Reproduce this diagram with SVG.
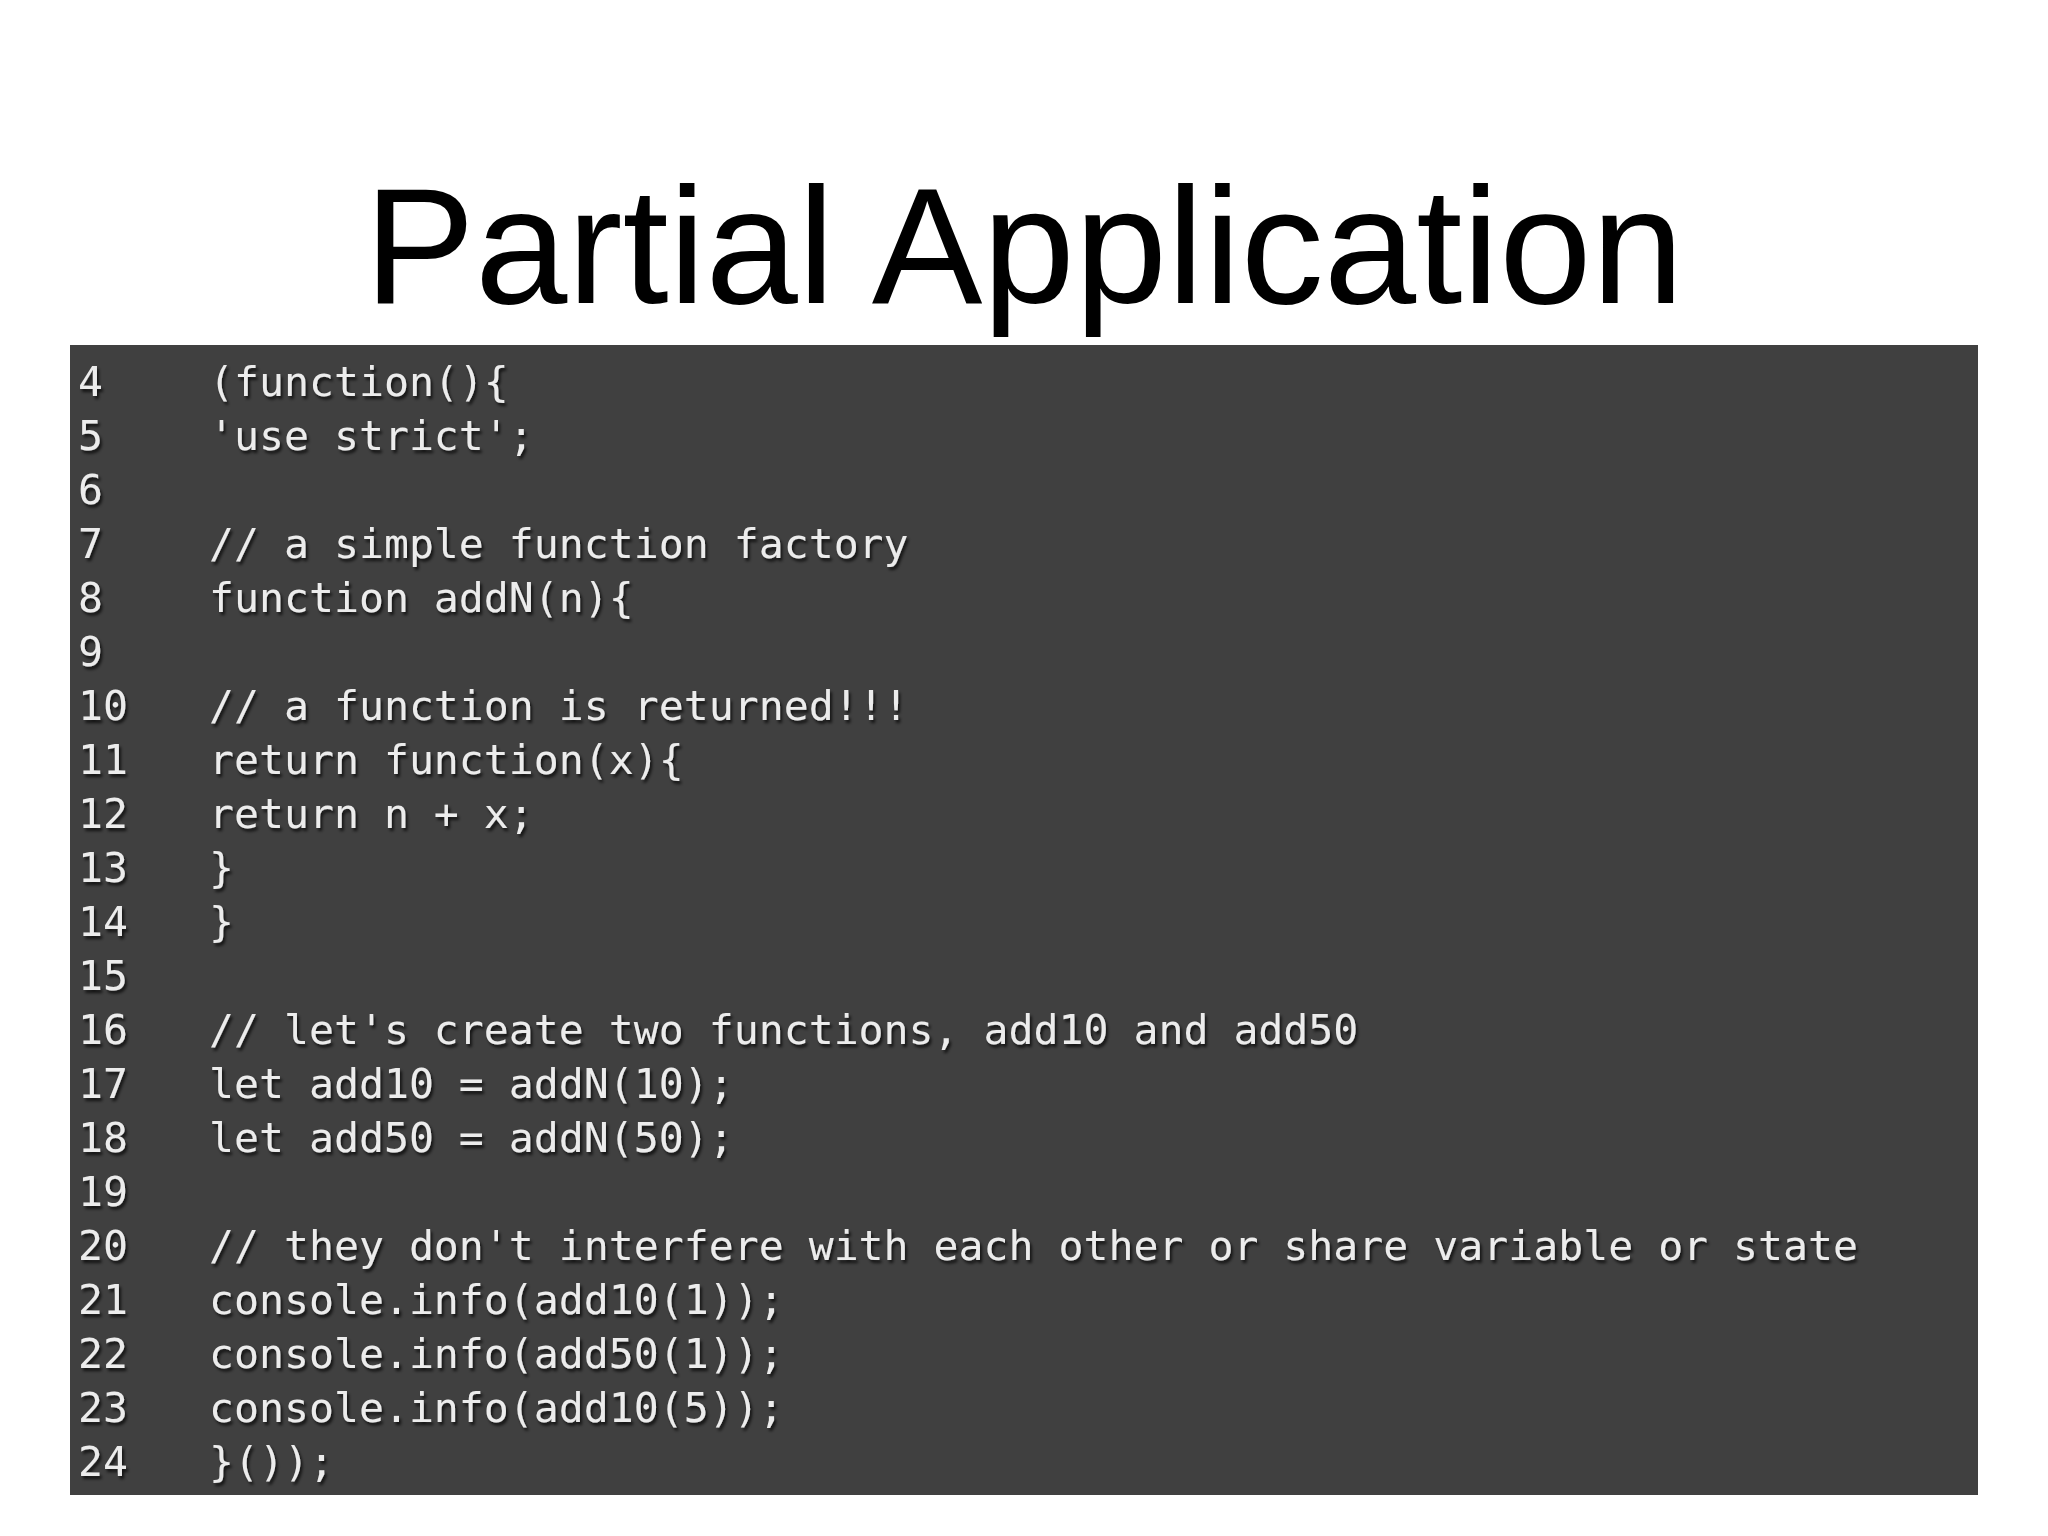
<svg xmlns="http://www.w3.org/2000/svg" width="2048" height="1536" viewBox="0 0 2048 1536">
<style>
.c{font-family:"DejaVu Sans Mono","Liberation Mono",monospace;font-size:41.5px;fill:#ececec;white-space:pre}
</style>
<defs><filter id="sh" x="-5%" y="-20%" width="110%" height="140%"><feDropShadow dx="2" dy="3" stdDeviation="1.5" flood-color="#000" flood-opacity="0.7"/></filter></defs>
<rect width="2048" height="1536" fill="#fff"/>
<text x="1024" y="303" text-anchor="middle" font-family="'Liberation Sans',Arial,sans-serif" font-size="166" fill="#000">Partial Application</text>
<rect x="70" y="345" width="1908" height="1150" fill="#404040"/>
<g filter="url(#sh)" class="c" xml:space="preserve">
<text x="78" y="396">4</text><text x="209" y="396">(function(){</text>
<text x="78" y="450">5</text><text x="209" y="450">  'use strict';</text>
<text x="78" y="504">6</text>
<text x="78" y="558">7</text><text x="209" y="558">  // a simple function factory</text>
<text x="78" y="612">8</text><text x="209" y="612">  function addN(n){</text>
<text x="78" y="666">9</text>
<text x="78" y="720">10</text><text x="209" y="720">    // a function is returned!!!</text>
<text x="78" y="774">11</text><text x="209" y="774">    return function(x){</text>
<text x="78" y="828">12</text><text x="209" y="828">      return n + x;</text>
<text x="78" y="882">13</text><text x="209" y="882">    }</text>
<text x="78" y="936">14</text><text x="209" y="936">  }</text>
<text x="78" y="990">15</text>
<text x="78" y="1044">16</text><text x="209" y="1044">  // let's create two functions, add10 and add50</text>
<text x="78" y="1098">17</text><text x="209" y="1098">  let add10 = addN(10);</text>
<text x="78" y="1152">18</text><text x="209" y="1152">  let add50 = addN(50);</text>
<text x="78" y="1206">19</text>
<text x="78" y="1260">20</text><text x="209" y="1260">  // they don't interfere with each other or share variable or state</text>
<text x="78" y="1314">21</text><text x="209" y="1314">  console.info(add10(1));</text>
<text x="78" y="1368">22</text><text x="209" y="1368">  console.info(add50(1));</text>
<text x="78" y="1422">23</text><text x="209" y="1422">  console.info(add10(5));</text>
<text x="78" y="1476">24</text><text x="209" y="1476">}());</text>
</g>
</svg>
